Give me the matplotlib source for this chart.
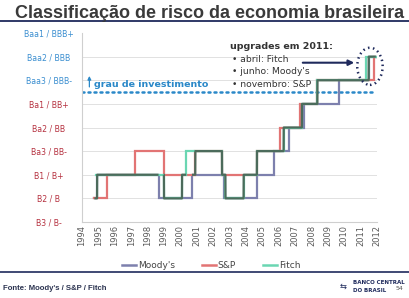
import numpy as np
import matplotlib
matplotlib.use("Agg")
import matplotlib.pyplot as plt
from matplotlib.patches import Ellipse
from matplotlib.lines import Line2D

# ---------------- data ----------------
rating_labels = ["B3 / B-", "B2 / B", "B1 / B+", "Ba3 / BB-", "Ba2 / BB",
                 "Ba1 / BB+", "Baa3 / BBB-", "Baa2 / BBB", "Baa1 / BBB+"]
years = list(range(1994, 2013))

moody_dates = [1994.75, 1994.92, 1998.67, 2000.71, 2002.64, 2004.67, 2005.69,
               2006.60, 2007.52, 2009.66, 2011.49]
moody_levels = [1, 2, 1, 2, 1, 2, 3, 4, 5, 6, 7]

sp_dates = [1994.75, 1995.53, 1997.25, 1998.98, 2000.91, 2002.54, 2004.67,
            2006.10, 2007.32, 2008.32, 2011.80]
sp_levels = [1, 2, 3, 2, 3, 2, 3, 4, 5, 6, 7]

fitch_dates = [1994.87, 1999.00, 2000.10, 2000.36, 2002.55, 2002.75, 2003.86,
               2004.67, 2006.30, 2007.42, 2008.36, 2011.35]
fitch_levels = [2, 1, 2, 3, 2, 1, 2, 3, 4, 5, 6, 7]

end_date = 2011.93
invest_grade = 5.5

agencies = ["Moody's", "S&P", "Fitch"]
colors = ["#7d80ad", "#e27474", "#6ad6b2"]
overlap_color = "#4c6b5b"

# ---------------- figure ----------------
W, H = 410, 298
fig = plt.figure(figsize=(W / 100, H / 100), dpi=100)
fig.patch.set_facecolor("white")

ax_l, ax_r, ax_t, ax_b = 82, 377, 33, 222
ax = fig.add_axes([ax_l / W, 1 - ax_b / H, (ax_r - ax_l) / W, (ax_b - ax_t) / H])
ax.set_xlim(1994, 2012)
ax.set_ylim(0, 8)

series = [(moody_dates, moody_levels), (sp_dates, sp_levels), (fitch_dates, fitch_levels)]
for (d, l), c in zip(series, colors):
    xs = list(d) + [end_date]
    ys = list(l) + [l[-1]]
    ax.step(xs, ys, where="post", color=c, lw=1.6, solid_joinstyle="miter", zorder=3)

# overlapping segments drawn darker
t = np.linspace(1994.5, end_date, 6000)
def level_at(d, l, t):
    idx = np.searchsorted(np.array(d), t, side="right") - 1
    out = np.where(idx >= 0, np.array(l)[np.clip(idx, 0, None)], np.nan).astype(float)
    return out
m = level_at(moody_dates, moody_levels, t)
s = level_at(sp_dates, sp_levels, t)
f = level_at(fitch_dates, fitch_levels, t)
common = np.full_like(t, np.nan)
common = np.where(m == s, m, common)
common = np.where((f == m) | (f == s), f, common)
ax.plot(t, common, color=overlap_color, lw=1.6, zorder=4, solid_capstyle="butt")

# grid and spines
for lv in range(1, 8):
    ax.axhline(lv, color="#dcdcdc", lw=0.6, zorder=1)
for sp in ["top", "right"]:
    ax.spines[sp].set_visible(False)
for sp in ["left", "bottom"]:
    ax.spines[sp].set_color("#cfcfcf")
    ax.spines[sp].set_linewidth(0.8)

ax.set_xticks(years)
ax.set_xticklabels([str(y) for y in years], rotation=90, fontsize=6, color="#5a5a5a")
ax.tick_params(axis="x", length=0, pad=2)

ax.set_yticks(range(len(rating_labels)))
ax.set_yticklabels(rating_labels, fontsize=5.6)
ax.tick_params(axis="y", length=0, pad=24)
for i, lbl in enumerate(ax.get_yticklabels()):
    lbl.set_ha("center")
    lbl.set_color("#3a8ed0" if i >= 6 else "#b5303f")

# investment grade line
ax.plot([1994, 2011.8], [invest_grade, invest_grade], color="#2a88c8",
        lw=1.8, linestyle=(0, (0.8, 1.6)), dash_capstyle="round", zorder=2)
ax.annotate("", xy=(1994.45, 6.3), xytext=(1994.45, 5.6),
            arrowprops=dict(arrowstyle="-|>", color="#2a88c8", lw=0.9,
                            mutation_scale=5))
ax.text(1994.72, 5.83, "grau de investimento", color="#2a88c8", fontsize=6.8,
        fontweight="bold", va="center", ha="left")

# upgrade annotations
fig.text(230 / W, 1 - 47 / H, "upgrades em 2011:", fontsize=6.8, fontweight="bold",
         color="#333333", va="center", ha="left")
for yy, txt in [(59.5, "• abril: Fitch"), (72, "• junho: Moody's"), (84.5, "• novembro: S&P")]:
    fig.text(232 / W, 1 - yy / H, txt, fontsize=6.6, color="#333333", va="center", ha="left")
fig.add_artist(matplotlib.patches.FancyArrowPatch(
    (300 / W, 1 - 62.7 / H), (357 / W, 1 - 62.7 / H), transform=fig.transFigure,
    arrowstyle="-|>", mutation_scale=8, color="#1f2a5c", lw=1.5))
ell = Ellipse((2011.57, 6.59), width=1.55, height=1.57, fill=False,
              edgecolor="#1f2a5c", lw=1.8, linestyle=(0, (0.6, 1.4)),
              clip_on=False, zorder=5)
ax.add_patch(ell)

# legend
handles = [Line2D([0], [0], color=c, lw=1.8) for c in colors]
fig.legend(handles, agencies, loc="center", bbox_to_anchor=(211 / W, 1 - 266 / H),
           ncol=3, frameon=False, fontsize=6.5, handlelength=1.6, handletextpad=0.15,
           columnspacing=3.0, labelcolor="#444444")

# title and frame lines
fig.text(15 / W, 1 - 18 / H, "Classificação de risco da economia brasileira",
         fontsize=13, fontweight="bold", color="#3a3a3a", ha="left", va="baseline",
         family=["Liberation Sans", "DejaVu Sans"])
fig.add_artist(Line2D([0, 1], [1 - 21 / H, 1 - 21 / H], color="#1f2a5c", lw=1.3,
                      transform=fig.transFigure))
fig.add_artist(Line2D([0, 1], [1 - 272 / H, 1 - 272 / H], color="#1f2a5c", lw=1.2,
                      transform=fig.transFigure))

fig.text(3 / W, 1 - 288 / H, "Fonte: Moody's / S&P / Fitch", fontsize=5.6,
         fontweight="bold", color="#2b3350", ha="left", va="center",
         family=["Liberation Sans", "DejaVu Sans"])
fig.text(353 / W, 1 - 282 / H, "BANCO CENTRAL", fontsize=4.0, fontweight="bold",
         color="#1f2a5c", ha="left", va="center")
fig.text(353 / W, 1 - 290 / H, "DO BRASIL", fontsize=4.0, fontweight="bold",
         color="#1f2a5c", ha="left", va="center")
fig.text(343 / W, 1 - 286 / H, "⇆", fontsize=6, color="#1f2a5c", ha="center", va="center")
fig.text(400 / W, 1 - 289 / H, "54", fontsize=4.5, color="#555555", ha="center", va="center")

fig.savefig("out.png", dpi=100, facecolor="white")
